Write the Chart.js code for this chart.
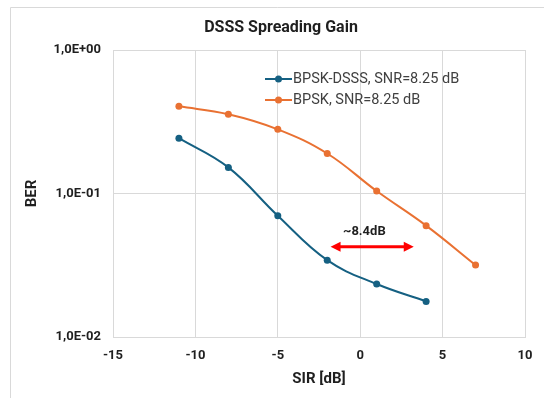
<!DOCTYPE html>
<html>
<head>
<meta charset="utf-8">
<script src="https://cdn.jsdelivr.net/npm/chart.js@4.4.1/dist/chart.umd.min.js"></script>
<style>
  html, body { margin: 0; padding: 0; background: #ffffff; }
  #wrap { width: 544px; height: 398px; position: relative; }
</style>
</head>
<body>
<div id="wrap"><canvas id="c" width="544" height="398"></canvas></div>
<script>
// ---- data ----
const sirDsss = [-11, -8, -5, -2, 1, 4];
const berDsss = [0.243, 0.152, 0.0700, 0.0343, 0.0234, 0.0177];
const sirBpsk = [-11, -8, -5, -2, 1, 4, 7];
const berBpsk = [0.405, 0.357, 0.280, 0.190, 0.104, 0.0597, 0.0317];
const seriesLabels = ['BPSK-DSSS, SNR=8.25 dB', 'BPSK, SNR=8.25 dB'];
const chartTitle = 'DSSS Spreading Gain';
const yTickValues = [0.01, 0.1, 1];
const xTickValues = [-15, -10, -5, 0, 5, 10];
const arrowX = [-1.8, 3.25];
const arrowY = 0.0425;
const gainLabel = '~8.4dB';
const gainLabelPos = [0.25, 0.0545];

const FONT = 'Roboto, "Liberation Sans", sans-serif';
const BLUE = '#156082';
const ORANGE = '#E97132';
const GRID = '#d9d9d9';
const TEXT = '#1f1f1f';

function fmtSci(v) {
  const e = Math.round(Math.log10(v));
  const m = v / Math.pow(10, e);
  const sign = e < 0 ? '-' : '+';
  const ae = String(Math.abs(e)).padStart(2, '0');
  return m.toFixed(1).replace('.', ',') + 'E' + sign + ae;
}

const toPts = (xs, ys) => xs.map((x, i) => ({x: x, y: ys[i]}));

const framePlugin = {
  id: 'frame',
  beforeDraw(chart) {
    const ctx = chart.ctx;
    ctx.save();
    ctx.strokeStyle = '#d9d9d9';
    ctx.lineWidth = 1;
    ctx.beginPath();
    ctx.moveTo(10.5, 398);
    ctx.lineTo(10.5, 7.5);
    ctx.lineTo(544, 7.5);
    ctx.stroke();
    ctx.fillStyle = TEXT;
    ctx.font = 'bold 16px ' + FONT;
    ctx.textAlign = 'center';
    ctx.textBaseline = 'middle';
    ctx.fillText(chartTitle, 281, 28);
    ctx.restore();
  }
};

const annotPlugin = {
  id: 'annot',
  afterDatasetsDraw(chart) {
    const ctx = chart.ctx;
    const xs = chart.scales.x, ys = chart.scales.y;
    const x1 = xs.getPixelForValue(arrowX[0]);
    const x2 = xs.getPixelForValue(arrowX[1]);
    const y = ys.getPixelForValue(arrowY);
    ctx.save();
    ctx.strokeStyle = '#ff0000';
    ctx.fillStyle = '#ff0000';
    ctx.lineWidth = 3;
    const head = 10, hw = 5;
    ctx.beginPath();
    ctx.moveTo(x1 + head - 1, y);
    ctx.lineTo(x2 - head + 1, y);
    ctx.stroke();
    ctx.beginPath();
    ctx.moveTo(x1, y); ctx.lineTo(x1 + head, y - hw); ctx.lineTo(x1 + head, y + hw); ctx.closePath();
    ctx.fill();
    ctx.beginPath();
    ctx.moveTo(x2, y); ctx.lineTo(x2 - head, y - hw); ctx.lineTo(x2 - head, y + hw); ctx.closePath();
    ctx.fill();
    ctx.fillStyle = TEXT;
    ctx.font = 'bold 13px ' + FONT;
    ctx.textAlign = 'center';
    ctx.textBaseline = 'middle';
    ctx.fillText(gainLabel, xs.getPixelForValue(gainLabelPos[0]), ys.getPixelForValue(gainLabelPos[1]));

    const colors = [BLUE, ORANGE];
    const lx = 265, ly0 = 79, dy = 21;
    ctx.font = '14.5px ' + FONT;
    ctx.textAlign = 'left';
    seriesLabels.forEach((lab, i) => {
      const yy = ly0 + i * dy;
      ctx.strokeStyle = colors[i];
      ctx.fillStyle = colors[i];
      ctx.lineWidth = 2;
      ctx.beginPath(); ctx.moveTo(lx, yy); ctx.lineTo(lx + 27, yy); ctx.stroke();
      ctx.beginPath(); ctx.arc(lx + 13.5, yy, 3.5, 0, Math.PI * 2); ctx.fill();
      ctx.fillStyle = '#404040';
      ctx.fillText(lab, lx + 28, yy + 0.5);
    });
    ctx.restore();
  }
};

const ds = (label, data, color) => ({
  label: label,
  data: data,
  showLine: true,
  borderColor: color,
  backgroundColor: color,
  borderWidth: 2,
  pointRadius: 3.5,
  pointBackgroundColor: color,
  pointBorderWidth: 0,
  tension: 0.4,
  cubicInterpolationMode: 'default'
});

new Chart(document.getElementById('c'), {
  type: 'scatter',
  data: {
    datasets: [
      ds(seriesLabels[0], toPts(sirDsss, berDsss), BLUE),
      ds(seriesLabels[1], toPts(sirBpsk, berBpsk), ORANGE)
    ]
  },
  options: {
    responsive: false,
    devicePixelRatio: 1,
    animation: false,
    layout: { padding: { left: 0, right: 19, top: 50, bottom: 0 } },
    plugins: {
      legend: { display: false },
      tooltip: { enabled: false },
      title: { display: false }
    },
    scales: {
      x: {
        type: 'linear',
        min: -15, max: 10,
        afterBuildTicks: s => { s.ticks = xTickValues.map(v => ({value: v})); },
        afterFit: s => { s.height = 61; },
        grid: { color: GRID, drawTicks: false },
        border: { color: GRID },
        ticks: {
          color: TEXT,
          font: { family: FONT, size: 13, weight: 'bold' },
          padding: 11
        },
        title: {
          display: true,
          text: 'SIR [dB]',
          color: TEXT,
          font: { family: FONT, size: 15, weight: 'bold' },
          padding: { top: 0, bottom: 10 }
        }
      },
      y: {
        type: 'logarithmic',
        min: 0.01, max: 1,
        afterBuildTicks: s => { s.ticks = yTickValues.map(v => ({value: v})); },
        afterFit: s => { s.width = 113; },
        grid: { color: GRID, drawTicks: false },
        border: { color: GRID },
        ticks: {
          color: TEXT,
          font: { family: FONT, size: 13, weight: 'bold' },
          padding: 12,
          callback: v => fmtSci(v)
        },
        title: {
          display: true,
          text: 'BER',
          color: TEXT,
          font: { family: FONT, size: 15, weight: 'bold' },
          padding: { top: 23, bottom: 0 }
        }
      }
    }
  },
  plugins: [framePlugin, annotPlugin]
});
</script>
</body>
</html>
